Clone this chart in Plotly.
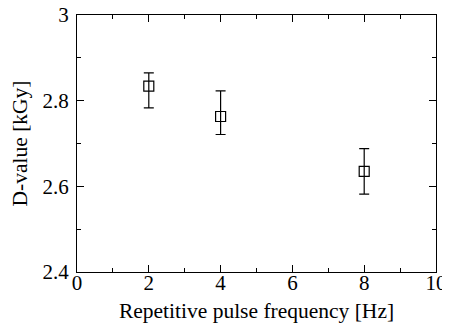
import plotly.graph_objects as go

freq_hz = [2, 4, 8]
d_value = [2.834, 2.763, 2.635]
err_plus = [0.031, 0.060, 0.053]
err_minus = [0.051, 0.042, 0.053]

x_ticks = [0, 2, 4, 6, 8, 10]
y_ticks = [2.4, 2.6, 2.8, 3.0]
y_tick_labels = ["2.4", "2.6", "2.8", "3"]

font_family = "Liberation Serif, Times New Roman, serif"

fig = go.Figure()
fig.add_trace(go.Scatter(
    x=freq_hz, y=d_value, mode="markers",
    marker=dict(symbol="square-open", size=10, color="black", line=dict(width=1.2, color="black")),
    error_y=dict(type="data", symmetric=False, array=err_plus, arrayminus=err_minus,
                 color="black", thickness=1.2, width=5),
    showlegend=False,
))

axis_common = dict(
    showline=True, linecolor="black", linewidth=1, mirror="ticks",
    ticks="inside", ticklen=7, tickwidth=1, tickcolor="black",
    showgrid=False, zeroline=False, automargin=False,
    ticklabeloverflow="allow",
    tickfont=dict(family=font_family, size=21, color="black"),
)

fig.update_xaxes(
    range=[0, 10], tickvals=x_ticks, ticklabelstandoff=-8,
    minor=dict(ticks="inside", ticklen=4, tickwidth=1, tickcolor="black", dtick=1, showgrid=False),
    title=dict(text="Repetitive pulse frequency [Hz]", font=dict(family=font_family, size=21.5, color="black"), standoff=8),
    **axis_common,
)
fig.update_yaxes(
    range=[2.4, 3.0], tickvals=y_ticks, ticktext=y_tick_labels, ticklabelstandoff=3,
    minor=dict(ticks="inside", ticklen=4, tickwidth=1, tickcolor="black", dtick=0.1, showgrid=False),
    title=dict(text="D-value [kGy]", font=dict(family=font_family, size=21.5, color="black"), standoff=12),
    **axis_common,
)

# page has an 8px body margin, so the figure is sized to fit the 450x326 window
fig.update_layout(
    width=442, height=318,
    margin=dict(l=69, r=14, t=7, b=54),
    plot_bgcolor="white", paper_bgcolor="white",
)

fig.write_html("out.html")
